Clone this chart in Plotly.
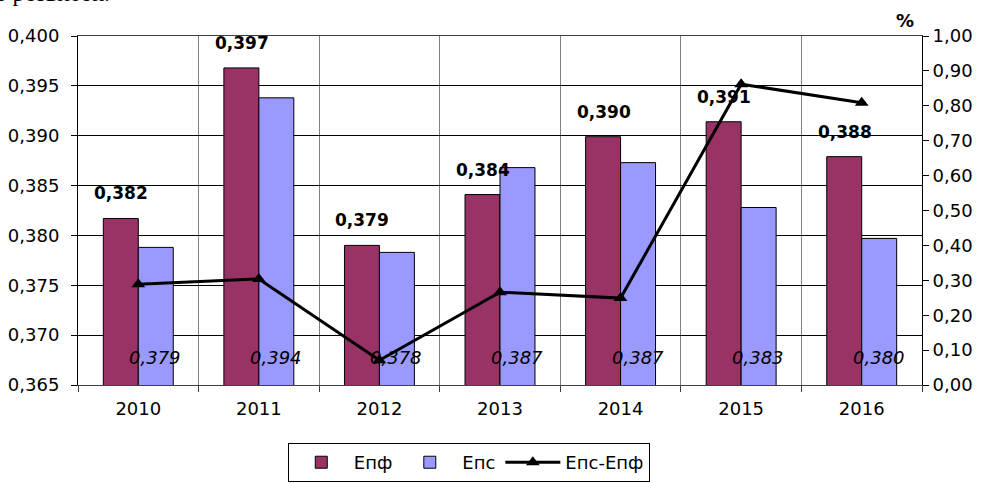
import plotly.graph_objects as go

years = ["2010", "2011", "2012", "2013", "2014", "2015", "2016"]
e_pf = [0.3817, 0.3968, 0.3790, 0.3841, 0.3899, 0.3914, 0.3879]
e_ps = [0.3788, 0.3938, 0.3783, 0.3868, 0.3873, 0.3828, 0.3797]
diff_pct = [0.289, 0.304, 0.071, 0.266, 0.249, 0.862, 0.809]

pf_labels = ["0,382", "0,397", "0,379", "0,384", "0,390", "0,391", "0,388"]
ps_labels = ["0,379", "0,394", "0,378", "0,387", "0,387", "0,383", "0,380"]

FONT = "DejaVu Sans, Arial, sans-serif"

fig = go.Figure()
fig.add_trace(go.Bar(x=years, y=e_pf, name="Епф", marker=dict(color="#993366", line=dict(color="black", width=1))))
fig.add_trace(go.Bar(x=years, y=e_ps, name="Епс", marker=dict(color="#9999FF", line=dict(color="black", width=1))))
fig.add_trace(go.Scatter(x=years, y=diff_pct, name="Епс-Епф", yaxis="y2", mode="lines+markers",
                         line=dict(color="black", width=3),
                         marker=dict(symbol="triangle-up", size=12, color="black")))

annotations = []
for i, (v, t) in enumerate(zip(e_pf, pf_labels)):
    annotations.append(dict(x=i, y=v, xref="x", yref="y", text="<b>" + t + "</b>", showarrow=False,
                            xshift=-17, yshift=13, yanchor="bottom", xanchor="center",
                            font=dict(family=FONT, size=17, color="black")))
for i, t in enumerate(ps_labels):
    annotations.append(dict(x=i, y=0.3678, xref="x", yref="y", text="<i>" + t + "</i>", showarrow=False,
                            xshift=17, yanchor="middle", xanchor="center",
                            font=dict(family=FONT, size=18, color="black")))
annotations.append(dict(x=0.98, y=1.0, xref="paper", yref="paper", yshift=3, text="<b>%</b>", showarrow=False,
                        xanchor="center", yanchor="bottom", font=dict(family=FONT, size=18, color="black")))
annotations.append(dict(x=0, y=1.0745, xref="paper", yref="paper", xshift=-84, yshift=2, text="т розвиток.", showarrow=False,
                        xanchor="left", yanchor="bottom", font=dict(family="Liberation Serif, Times New Roman, serif", size=24, color="black")))

fig.update_layout(
    width=982, height=483,
    margin=dict(l=78, r=60, t=36, b=98),
    paper_bgcolor="white", plot_bgcolor="white",
    separators=", ",
    barmode="group", bargap=0.42, bargroupgap=0,
    font=dict(family=FONT, size=18, color="black"),
    xaxis=dict(type="category", range=[-0.5, 6.5], tickson="boundaries", showgrid=True, gridcolor="#808080", gridwidth=1,
               ticks="outside", ticklen=6, tickcolor="#404040", showline=True, linecolor="#404040", linewidth=1,
               mirror=True, tickfont=dict(size=18), tickangle=0, automargin=False, ticklabelstandoff=7),
    yaxis=dict(range=[0.365, 0.400], dtick=0.005, tickformat=".3f", showgrid=True, gridcolor="black",
               gridwidth=1, ticks="outside", ticklen=6, tickcolor="black", showline=True, linecolor="black",
               zeroline=False, tickfont=dict(size=18), automargin=False, ticklabelstandoff=8),
    yaxis2=dict(range=[0, 1], dtick=0.1, tickformat=".2f", overlaying="y", side="right", showgrid=False,
                ticks="outside", ticklen=6, tickcolor="black", showline=True, linecolor="black",
                zeroline=False, tickfont=dict(size=18), automargin=False),
    legend=dict(orientation="h", x=0.463, xanchor="center", y=0.002, yref="container", yanchor="bottom",
                bordercolor="black", borderwidth=1, font=dict(size=18), itemwidth=55, tracegroupgap=0),
    annotations=annotations,
)

fig.write_html("out.html", config={"displayModeBar": False}, post_script="document.body.style.margin='0';")
